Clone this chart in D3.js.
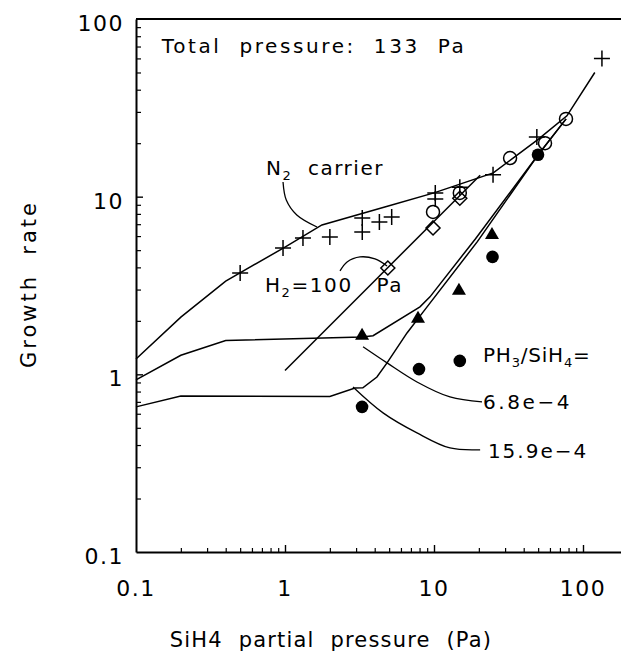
<!DOCTYPE html>
<html><head><meta charset="utf-8">
<script src="https://cdn.jsdelivr.net/npm/d3@7"></script>
<style>
body{margin:0;background:#fff}
svg{display:block;background:#fff}
text{font-family:"DejaVu Sans",sans-serif;fill:#000}
</style>
</head><body>
<svg id="c" width="621" height="664"></svg>
<script>
// ---- tick labels ----
const xTickValues = [0.1, 1, 10, 100];
const xTickLabels = ["0.1", "1", "10", "100"];
const yTickValues = [0.1, 1, 10, 100];
const yTickLabels = ["0.1", "1", "10", "100"];

// ---- data points ----
// N2 carrier (+)
const plusX = [0.5, 0.97, 1.32, 2.0, 3.3, 3.3, 4.3, 5.2, 10.2, 10.2, 14.9, 24.9, 49, 134];
const plusY = [3.72, 5.14, 5.86, 5.93, 7.59, 6.33, 7.2, 7.69, 10.5, 9.7, 11.3, 13.3, 21.7, 60];
// open circles
const openX = [9.85, 14.9, 32.4, 55.6, 76.9];
const openY = [8.2, 10.5, 16.5, 20.0, 27.4];
// H2 = 100 Pa (diamonds)
const diamondX = [4.9, 9.85, 14.9];
const diamondY = [3.97, 6.67, 9.8];
// PH3/SiH4 = 6.8e-4 (filled triangles)
const triX = [3.29, 7.81, 14.7, 24.5];
const triY = [1.67, 2.08, 2.99, 6.17];
// PH3/SiH4 = 15.9e-4 (filled circles)
const dotX = [3.29, 7.93, 14.9, 24.7, 49.9];
const dotY = [0.656, 1.07, 1.19, 4.58, 17.2];

// ---- model curves ----
const n2LineX = [0.1, 0.2, 0.4, 1, 1.77, 5, 10, 25, 35, 50, 78, 120];
const n2LineY = [1.22, 2.1, 3.35, 5.2, 6.93, 8.9, 10.5, 13.6, 16.8, 21, 28.5, 50];
const h2LineX = [1, 20.4];
const h2LineY = [1.05, 13.2];
const ph68LineX = [0.1, 0.2, 0.4, 3.3, 3.9, 8.05, 9.4, 19.0, 50, 77];
const ph68LineY = [0.93, 1.28, 1.55, 1.62, 1.65, 2.4, 2.73, 5.8, 17.2, 27.4];
const ph159LineX = [0.1, 0.2, 2.0, 2.95, 3.33, 4.14, 4.84, 6.59, 8.44, 19.6, 50, 77];
const ph159LineY = [0.656, 0.755, 0.75, 0.838, 0.84, 0.966, 1.16, 1.71, 2.24, 5.6, 17.2, 27.4];

// ---- annotation leader curves (data coords) ----
const n2LeaderX = [0.97, 1.02, 1.20, 1.64];
const n2LeaderY = [12.1, 9.58, 7.89, 6.75];
const h2LeaderX = [2.34, 2.61, 3.19, 4.02, 4.84];
const h2LeaderY = [3.82, 4.29, 4.58, 4.46, 4.07];
const lead68X = [3.34, 4.84, 7.69, 12.8, 21.0];
const lead68Y = [1.43, 1.16, 0.906, 0.746, 0.70];
const lead159X = [2.86, 4.55, 7.69, 12.8, 20.4];
const lead159Y = [0.849, 0.607, 0.468, 0.385, 0.376];

// ---- annotation texts ----
const titleText = "Total  pressure:  133  Pa";
const xTitle = "SiH4  partial  pressure  (Pa)";
const yTitle = "Growth  rate";

(function () {
const svg = d3.select("#c");
const mLeft = 136, mTop = 19, mBottom = 552;
const decadeX = 149;

const x = d3.scaleLog().domain([0.1, 200]).range([mLeft, mLeft + decadeX * Math.log10(2000)]);
const y = d3.scaleLog().domain([0.1, 100]).range([mBottom, mTop]);

const g = svg.append("g");

// minor/major ticks
const xMinor = [], yMinor = [];
[0.1, 1, 10, 100].forEach(d => { for (let m = 2; m <= 9; m++) { const v = m * d; if (v <= 200) xMinor.push(v); if (v < 100) yMinor.push(v); } });

g.append("g").attr("transform", `translate(0,${mBottom})`)
  .call(d3.axisBottom(x).tickValues(xMinor).tickSize(-4).tickSizeOuter(0).tickFormat(""))
  .call(a => a.selectAll("line").attr("stroke-width", 1.2))
  .call(a => a.select(".domain").attr("stroke-width", 2));
g.append("g").attr("transform", `translate(0,${mBottom})`)
  .call(d3.axisBottom(x).tickValues([1, 10, 100]).tickSize(-7).tickSizeOuter(0).tickFormat(""))
  .call(a => a.selectAll("line").attr("stroke-width", 1.4))
  .call(a => a.select(".domain").remove());

g.append("g").attr("transform", `translate(${mLeft},0)`)
  .call(d3.axisLeft(y).tickValues(yMinor).tickSize(-5).tickSizeOuter(0).tickFormat(""))
  .call(a => a.selectAll("line").attr("stroke-width", 1.2))
  .call(a => a.select(".domain").attr("stroke-width", 2));
g.append("g").attr("transform", `translate(${mLeft},0)`)
  .call(d3.axisLeft(y).tickValues([1, 10]).tickSize(-7).tickSizeOuter(0).tickFormat(""))
  .call(a => a.selectAll("line").attr("stroke-width", 1.4))
  .call(a => a.select(".domain").remove());

// top frame
g.append("line").attr("x1", x(0.1)).attr("x2", x(200)).attr("y1", y(100)).attr("y2", y(100))
  .attr("stroke", "#000").attr("stroke-width", 2);

// tick labels
g.selectAll(".xl").data(xTickValues).join("text")
  .attr("x", d => x(d)).attr("y", mBottom + 44)
  .attr("text-anchor", "middle").attr("font-size", 22).attr("letter-spacing", 1.5)
  .text((d, i) => xTickLabels[i]);
g.selectAll(".yl").data(yTickValues).join("text")
  .attr("x", mLeft - 12).attr("y", d => y(d) + 12)
  .attr("text-anchor", "end").attr("font-size", 22).attr("letter-spacing", 1.5)
  .text((d, i) => yTickLabels[i]);

// axis titles
g.append("text").attr("x", 331).attr("y", 647).attr("text-anchor", "middle")
  .attr("font-size", 21).attr("letter-spacing", 1.2).attr("xml:space", "preserve").text(xTitle);
g.append("text").attr("transform", "translate(36,284) rotate(-90)").attr("text-anchor", "middle")
  .attr("font-size", 21).attr("letter-spacing", 3).attr("xml:space", "preserve").text(yTitle);

// curves
const lineGen = d3.line().x(d => x(d[0])).y(d => y(d[1]));
const zip = (a, b) => a.map((v, i) => [v, b[i]]);
[[n2LineX, n2LineY], [h2LineX, h2LineY], [ph68LineX, ph68LineY], [ph159LineX, ph159LineY]].forEach(([a, b]) => {
  g.append("path").attr("d", lineGen(zip(a, b))).attr("fill", "none").attr("stroke", "#000").attr("stroke-width", 1.5);
});
const curveGen = d3.line().x(d => x(d[0])).y(d => y(d[1])).curve(d3.curveCatmullRom);
[[n2LeaderX, n2LeaderY], [h2LeaderX, h2LeaderY], [lead68X, lead68Y], [lead159X, lead159Y]].forEach(([a, b]) => {
  g.append("path").attr("d", curveGen(zip(a, b))).attr("fill", "none").attr("stroke", "#000").attr("stroke-width", 1.3);
});

// markers
const mk = g.append("g");
mk.selectAll(".plus").data(zip(plusX, plusY)).join("path")
  .attr("d", d => `M${x(d[0]) - 8},${y(d[1])}H${x(d[0]) + 8}M${x(d[0])},${y(d[1]) - 8}V${y(d[1]) + 8}`)
  .attr("stroke", "#000").attr("stroke-width", 1.5).attr("fill", "none");
mk.selectAll(".open").data(zip(openX, openY)).join("circle")
  .attr("cx", d => x(d[0])).attr("cy", d => y(d[1])).attr("r", 6.5)
  .attr("fill", "none").attr("stroke", "#000").attr("stroke-width", 1.5);
mk.selectAll(".dia").data(zip(diamondX, diamondY)).join("path")
  .attr("d", d => { const cx = x(d[0]), cy = y(d[1]); return `M${cx},${cy - 7}L${cx + 7},${cy}L${cx},${cy + 7}L${cx - 7},${cy}Z`; })
  .attr("fill", "none").attr("stroke", "#000").attr("stroke-width", 1.5);
mk.selectAll(".tri").data(zip(triX, triY)).join("path")
  .attr("d", d => { const cx = x(d[0]), cy = y(d[1]); return `M${cx},${cy - 7}L${cx + 7},${cy + 5}L${cx - 7},${cy + 5}Z`; })
  .attr("fill", "#000");
mk.selectAll(".dot").data(zip(dotX, dotY)).join("circle")
  .attr("cx", d => x(d[0])).attr("cy", d => y(d[1])).attr("r", 6.3).attr("fill", "#000");

// annotations
function label(px, py, parts, ls) {
  const t = g.append("text").attr("x", x(px)).attr("y", y(py)).attr("font-size", 20)
    .attr("letter-spacing", ls).attr("xml:space", "preserve");
  parts.forEach(p => {
    if (p.sub) t.append("tspan").attr("font-size", 13).attr("dy", 5).text(p.t);
    else t.append("tspan").attr("dy", p.after ? -5 : 0).text(p.t);
  });
  return t;
}
label(0.149, 64.4, [{t: titleText}], 2.6);
label(0.746, 13.2, [{t: "N"}, {t: "2", sub: true}, {t: "  carrier", after: true}], 1.5);
label(0.733, 2.91, [{t: "H"}, {t: "2", sub: true}, {t: "=100   Pa", after: true}], 1.6);
label(21.3, 1.17, [{t: "PH"}, {t: "3", sub: true}, {t: "/SiH", after: true}, {t: "4", sub: true}, {t: "=", after: true}], 0.8);
label(21.3, 0.638, [{t: "6.8e\u22124"}], 2.6);
label(23.0, 0.339, [{t: "15.9e\u22124"}], 2.0);
})();
</script>
</body></html>
